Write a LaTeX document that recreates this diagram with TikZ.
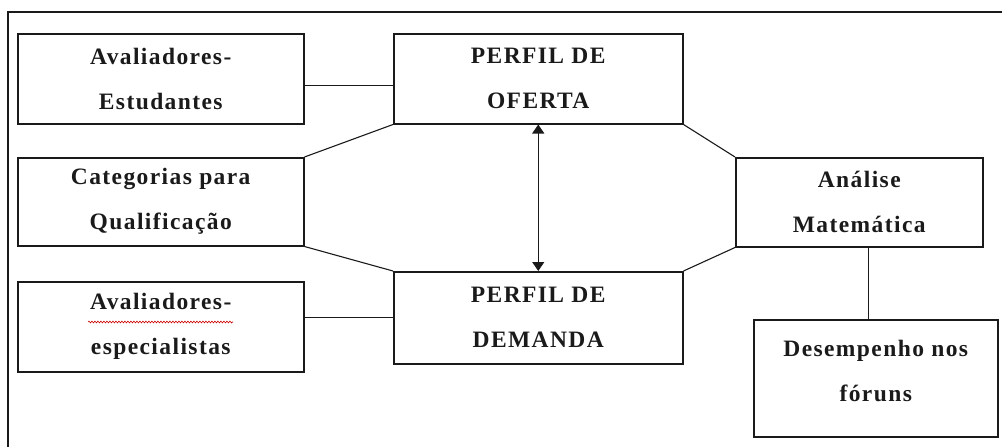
\documentclass[tikz,border=0pt]{standalone}
\usepackage{fontspec}
\setmainfont{Liberation Serif}
\usetikzlibrary{arrows.meta,decorations.pathmorphing}
\definecolor{ink}{HTML}{1A1A1A}
\tikzset{
  box/.style={draw=ink, line width=1.5pt, anchor=north west, align=center, text=ink,
    font={\fontsize{23.5}{45}\selectfont\bfseries\addfontfeature{LetterSpace=6}}, inner sep=0pt},
  link/.style={draw=ink, line width=1.1pt},
}
\begin{document}
\begin{tikzpicture}[x=1pt,y=-1pt]
\useasboundingbox (0,0) rectangle (1002,447);
\draw[ink, line width=2pt] (8,452) -- (8,12) -- (1006,12);

\node[box, minimum width=286pt, minimum height=90pt] (ae) at (17,33) {Avaliadores-\\Estudantes};
\node[box, minimum width=289pt, minimum height=90pt] (of) at (393,33) {PERFIL DE\\OFERTA};
\node[box, minimum width=286pt, minimum height=88pt] (cat) at (17,157) {Categorias para\\Qualificação};
\node[box, minimum width=247pt, minimum height=89pt] (an) at (735,157) {Análise\\Matemática};
\node[box, minimum width=289pt, minimum height=92pt] (dm) at (393,271) {PERFIL DE\\DEMANDA};
\node[box, minimum width=286pt, minimum height=90pt] (es) at (17,281) {Avaliadores-\\especialistas};
\node[box, minimum width=244pt, minimum height=117pt, text depth=14pt] (ds) at (753,319) {Desempenho nos\\fóruns};

\draw[link] ([yshift=-7pt]ae.east) -- ([yshift=-7pt]of.west);
\draw[link] (cat.north east) -- (of.south west);
\draw[link] (cat.south east) -- (dm.north west);
\draw[link] (es.east |- dm.west) -- (dm.west);
\draw[link] (of.south east) -- (an.north west);
\draw[link] (an.south west) -- (dm.north east);
\draw[link] ([xshift=9.5pt]an.south) coordinate (c1) -- (c1 |- ds.north);
\draw[link, {Triangle[width=12pt,length=9pt]}-{Triangle[width=12pt,length=9pt]}] (of.south) -- (dm.north);

\draw[red!80!black, line width=0.6pt, decorate, decoration={snake, amplitude=0.9pt, segment length=3pt}] (88,322) -- (233,322);
\end{tikzpicture}
\end{document}
